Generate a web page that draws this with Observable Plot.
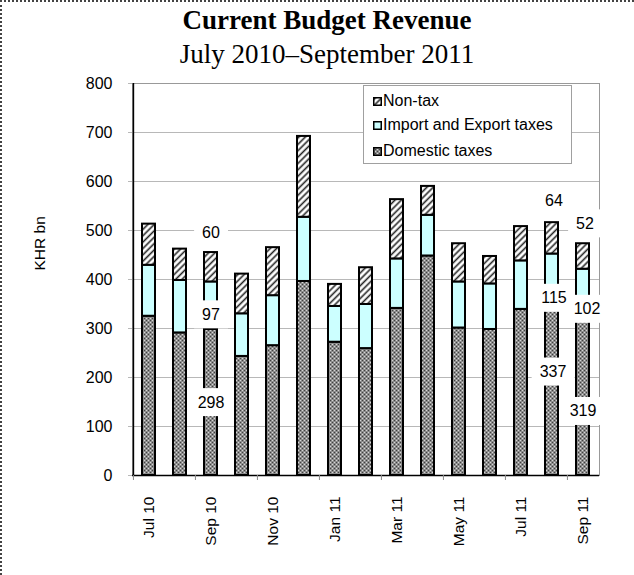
<!DOCTYPE html>
<html><head><meta charset="utf-8">
<script src="https://cdn.jsdelivr.net/npm/d3@7"></script>
<script src="https://cdn.jsdelivr.net/npm/@observablehq/plot@0.6"></script>
<style>
body{margin:0;background:#fff;}
#wrap{position:relative;width:634px;height:575px;overflow:hidden;font-family:"Liberation Sans",Arial,sans-serif;background:#fff;}
#border{position:absolute;left:0;top:0;width:634px;height:575px;border-left:2px dotted #444;border-top:2px dotted #444;box-sizing:border-box;pointer-events:none;z-index:5;}
#title{position:absolute;left:10px;top:3px;width:634px;text-align:center;font-family:"Liberation Serif","Times New Roman",serif;font-size:27px;line-height:34px;color:#000;}
#title b{font-weight:bold;}
#chart{position:absolute;left:0;top:70px;}
#legend{position:absolute;left:363px;top:85px;width:209px;height:79px;border:1px solid #a0a0a0;background:#fff;box-sizing:border-box;font-size:16px;}
.item{position:absolute;left:0;height:20px;line-height:20px;white-space:nowrap;}
.item svg{position:absolute;left:9px;top:6px;}
.item span{position:absolute;left:19px;top:0;}
</style>
</head><body>
<svg width="0" height="0" style="position:absolute">
<defs>
<pattern id="pDom" width="4" height="4" patternUnits="userSpaceOnUse">
<rect width="4" height="4" fill="#8c8c8c"/>
<rect x="0" y="0" width="1" height="1" fill="#404040"/>
<rect x="2" y="2" width="1" height="1" fill="#404040"/>
<rect x="2" y="0" width="1" height="1" fill="#d6d6d6"/>
<rect x="0" y="2" width="1" height="1" fill="#d6d6d6"/>
</pattern>
<pattern id="pNon" width="4.5" height="4.5" patternUnits="userSpaceOnUse" patternTransform="rotate(45)">
<rect width="4.5" height="4.5" fill="#fff"/>
<line x1="2.25" y1="0" x2="2.25" y2="4.5" stroke="#222" stroke-width="1.6"/>
</pattern>
</defs>
</svg>
<div id="wrap">
<div id="title"><b>Current Budget Revenue</b><br>July 2010–September 2011</div>
<div id="chart"></div>
<div id="legend"></div>
<div id="border"></div>
</div>
<script>
const months = ["Jul 10","Aug 10","Sep 10","Oct 10","Nov 10","Dec 10","Jan 11","Feb 11","Mar 11","Apr 11","May 11","Jun 11","Jul 11","Aug 11","Sep 11"];
const domestic = [325,291,298,243,265,396,272,259,341,448,301,298,339,337,319];
const importExport = [104,107,97,87,102,131,73,90,101,83,94,93,99,115,102];
const nonTax = [84,64,60,81,98,165,45,75,121,59,78,56,70,64,52];
const seriesNames = ["Domestic taxes","Import and Export taxes","Non-tax"];
const legendOrder = ["Non-tax","Import and Export taxes","Domestic taxes"];
const seriesFills = ["url(#pDom)","#ccffff","url(#pNon)"];
const tickMonths = ["Jul 10","Sep 10","Nov 10","Jan 11","Mar 11","May 11","Jul 11","Sep 11"];
const yTicks = [0,100,200,300,400,500,600,700,800];
const labeledMonths = ["Sep 10","Aug 11","Sep 11"];
// pixel nudges for the data labels: [domestic, import/export, non-tax]
const labelNudgeY = {"Sep 10":[0,9,-20], "Aug 11":[-21,16,-22], "Sep 11":[14,15,-20]};
const labelNudgeX = {"Sep 10":[0,0,0], "Aug 11":[1,2,2], "Sep 11":[0,4,2]};

const W = 634, H = 505, ML = 132, MR = 35, MT = 13, MB = 100;
const step = (W - ML - MR) / months.length;

const rows = months.flatMap((m, i) => [
  {month: m, series: seriesNames[0], value: domestic[i]},
  {month: m, series: seriesNames[1], value: importExport[i]},
  {month: m, series: seriesNames[2], value: nonTax[i]}
]);

const labels = [];
labeledMonths.forEach(m => {
  const i = months.indexOf(m);
  const ny = labelNudgeY[m], nx = labelNudgeX[m];
  labels.push({month: m, y: domestic[i] / 2, text: String(domestic[i]), dy: ny[0], dx: nx[0]});
  labels.push({month: m, y: domestic[i] + importExport[i] / 2, text: String(importExport[i]), dy: ny[1], dx: nx[1]});
  labels.push({month: m, y: domestic[i] + importExport[i] + nonTax[i], text: String(nonTax[i]), dy: ny[2], dx: nx[2]});
});

const svg = Plot.plot({
  width: W, height: H,
  marginLeft: ML, marginRight: MR, marginTop: MT, marginBottom: MB,
  style: {fontFamily: "Liberation Sans, Arial, sans-serif", fontSize: "16px", color: "#000", background: "transparent"},
  x: {type: "band", domain: months, paddingInner: 0.58, paddingOuter: 0.29, axis: null},
  y: {domain: [0, 800], axis: null},
  color: {domain: seriesNames, range: seriesFills},
  marks: [
    Plot.gridY(yTicks, {stroke: "#b8b8b8", strokeOpacity: 1}),
    Plot.frame({stroke: "#999"}),
    Plot.axisY({ticks: yTicks, tickSize: 4, tickPadding: 16, fontSize: 16, stroke: "#b8b8b8", label: null}),
    Plot.barY(rows, {x: "month", y: "value", fill: "series", stroke: "#000", strokeWidth: 2}),
    Plot.ruleY([0], {stroke: "#000", strokeWidth: 1.5}),
    Plot.ruleX([months[0]], {y1: 0, y2: 800, dx: -step / 2, stroke: "#000", strokeWidth: 1.5}),
    Plot.axisX({ticks: tickMonths, tickSize: 5, tickFormat: () => "", dx: -step / 2, stroke: "#888", label: null}),
    Plot.axisX({ticks: tickMonths, tickSize: 0, tickPadding: 21, tickRotate: -90, fontSize: 15.5, label: null}),
    Plot.text(["KHR bn"], {frameAnchor: "left", dx: -92, dy: -9, rotate: -90, fontSize: 15.5}),
    // white label boxes first (text used only to size the box), then the label texts on top
    ...labels.map(l => Plot.text([l], {x: "month", y: "y", text: "text", dy: l.dy, dx: l.dx, fontSize: 16, fill: "none", ariaDescription: "label-box"})),
    ...labels.map(l => Plot.text([l], {x: "month", y: "y", text: "text", dy: l.dy, dx: l.dx, fontSize: 16, fill: "#000"}))
  ]
});
document.getElementById("chart").append(svg);

svg.querySelectorAll('[aria-description="label-box"] text').forEach(t => {
  const b = t.getBBox();
  const r = document.createElementNS("http://www.w3.org/2000/svg", "rect");
  r.setAttribute("x", b.x - 8);
  r.setAttribute("width", b.width + 16);
  r.setAttribute("y", b.y + b.height / 2 - 14);
  r.setAttribute("height", 28);
  r.setAttribute("fill", "#fff");
  r.setAttribute("stroke", "none");
  const tr = t.getAttribute("transform");
  if (tr) r.setAttribute("transform", tr);
  t.parentNode.insertBefore(r, t);
});

const legend = document.getElementById("legend");
const centers = [15, 39, 65];
legendOrder.forEach((name, k) => {
  const fill = seriesFills[seriesNames.indexOf(name)];
  const div = document.createElement("div");
  div.className = "item";
  div.style.top = (centers[k] - 10) + "px";
  div.innerHTML = `<svg width="9" height="9"><rect x="0.75" y="0.75" width="7.5" height="7.5" fill="${fill}" stroke="#000" stroke-width="1.5"/></svg><span>${name}</span>`;
  legend.append(div);
});
</script>
</body></html>
